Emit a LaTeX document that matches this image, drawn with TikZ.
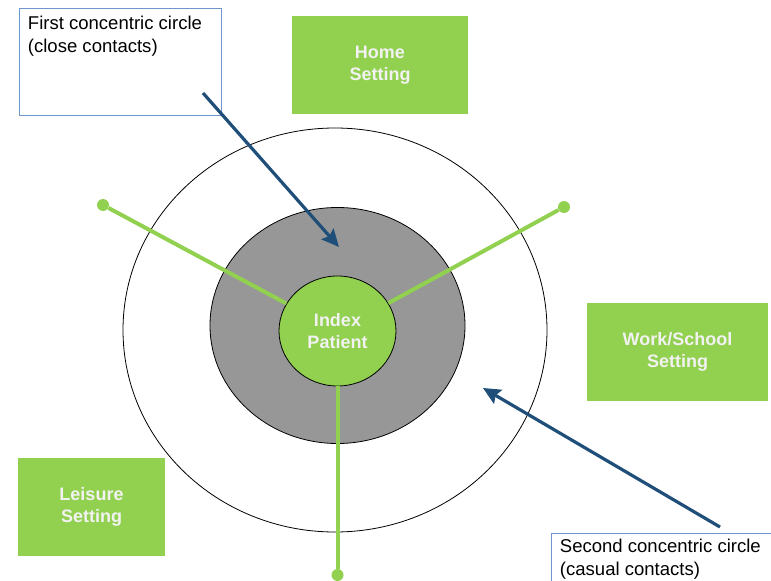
\documentclass[tikz,border=0pt]{standalone}
\usepackage{fontspec}
\setmainfont{Liberation Sans}
\usetikzlibrary{positioning}
\usetikzlibrary{shapes.geometric}
\usetikzlibrary{arrows.meta}
\definecolor{settinggreen}{HTML}{92D050}
\definecolor{ringgray}{HTML}{979797}
\definecolor{arrowblue}{HTML}{1F4E79}
\definecolor{boxblue}{HTML}{7096CE}
\definecolor{lighttext}{HTML}{F2F2F2}

\begin{document}
\begin{tikzpicture}[x=0.75pt, y=-0.75pt,
				setting/.style={fill=settinggreen, draw=none, minimum height=73.5pt, align=center, text=lighttext, font=\fontsize{13.5}{16.5}\selectfont\bfseries},
				notebox/.style={draw=boxblue, line width=0.6pt, fill=white, anchor=north west},
				notetext/.style={align=left, inner sep=0pt, font=\fontsize{13.9}{17.2}\selectfont},
				spoke/.style={draw=settinggreen, line width=3pt},
				spokeend/.style={circle, fill=settinggreen, inner sep=0pt, minimum size=9pt},
				pointer/.style={draw=arrowblue, line width=2.4pt, -{Stealth[length=13pt, width=12pt, inset=2pt]}}]
				\useasboundingbox (0,0) rectangle (771,581);
				
				% rings
				\node[ellipse, draw, line width=0.6pt, minimum width=318pt, minimum height=303pt, inner sep=0pt](outer) at (335, 330) {};
				\node[ellipse, draw, line width=0.6pt, fill=ringgray, minimum width=191.25pt, minimum height=177pt, inner sep=0pt](inner) at (337.5, 325.5) {};
				\node[ellipse, draw, line width=0.6pt, fill=settinggreen, minimum width=87.75pt, minimum height=82.5pt, inner sep=0pt, align=center, text=lighttext, font=\fontsize{13.5}{16.5}\selectfont\bfseries](index) at (337.5, 331) {Index\\Patient};
				
				% spokes
				\node[spokeend](end1) at (103, 205) {};
				\node[spokeend](end2) at (564, 207) {};
				\node[spokeend](end3) at (337.5, 575) {};
				\draw[spoke] (end1) -- (index);
				\draw[spoke] (end2) -- (index);
				\draw[spoke] (end3) -- (index);
				
				% settings
				\node[setting, minimum width=132pt](home) at (380, 65) {Home\\Setting};
				\node[setting, minimum width=135.75pt](work) at (677.5, 352) {Work/School\\Setting};
				\node[setting, minimum width=110.25pt](leisure) at (91.5, 506.5) {Leisure\\Setting};
				
				% notes
				\node[notebox, minimum width=151.5pt, minimum height=80.25pt](first) at (19, 8) {};
				\node[notetext, below right=6pt and 6.5pt of first.north west](firsttext) {First concentric circle\\(close contacts)};
				\node[notebox, minimum width=180pt, minimum height=60pt](second) at (551, 533) {};
				\node[notetext, below right=4.5pt and 6.5pt of second.north west](secondtext) {Second concentric circle\\(casual contacts)};
				
				\coordinate (tail1) at (203, 93);
				\coordinate (tip1) at (339, 247);
				\draw[pointer] (tail1) -- (tip1);
				\coordinate (tail2) at (720, 527);
				\coordinate (tip2) at (483, 388);
				\draw[pointer] (tail2) -- (tip2);
			\end{tikzpicture}
\end{document}
